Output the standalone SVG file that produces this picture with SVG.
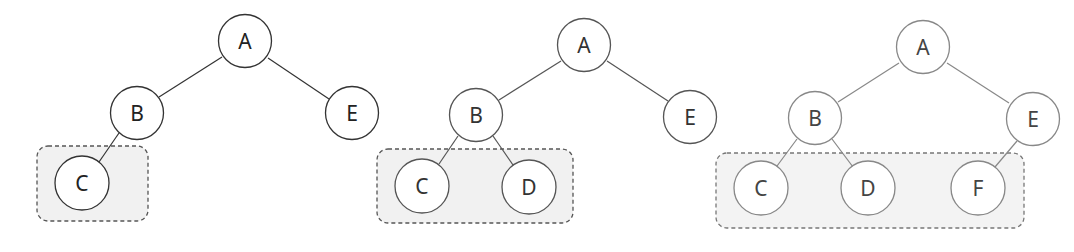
<svg xmlns="http://www.w3.org/2000/svg" width="1074" height="252" viewBox="0 0 1074 252">
<style>
.bg{fill:#ffffff}
.box{fill:#f1f1f1;stroke:#555;stroke-width:1.3;stroke-dasharray:4 3}
.box3{fill:#f3f3f3;stroke:#777;stroke-width:1.3;stroke-dasharray:4 3}
.n circle{fill:#fff;stroke:#333;stroke-width:1.3}
.n text{font-family:"Noto Sans","Liberation Sans",sans-serif;font-size:21px;fill:#222;text-anchor:middle;dominant-baseline:central}
.t2 circle{stroke:#555}
.t2 text{fill:#333}
.t3 circle{stroke:#888}
.t3 text{fill:#444}
.e line{stroke:#333;stroke-width:1.2}
.e2 line{stroke:#555}
.e3 line{stroke:#888}
</style>
<rect class="bg" x="0" y="0" width="1074" height="252"/>
<rect class="box" x="37" y="146" width="111" height="75" rx="11"/>
<rect class="box" x="377" y="149" width="196" height="74" rx="11"/>
<rect class="box3" x="716" y="153" width="308" height="75" rx="11"/>
<g id="connectors" class="e">
<g>
<line x1="222" y1="57" x2="159" y2="97"/>
<line x1="268" y1="58" x2="329" y2="99"/>
<line x1="119" y1="133" x2="99" y2="162"/>
</g>
<g class="e2">
<line x1="561" y1="61" x2="499" y2="100"/>
<line x1="607" y1="61" x2="668" y2="101"/>
<line x1="458" y1="136" x2="439" y2="164"/>
<line x1="493" y1="136" x2="513" y2="165"/>
</g>
<g class="e3">
<line x1="899" y1="63" x2="838" y2="102"/>
<line x1="947" y1="63" x2="1009" y2="103"/>
<line x1="797" y1="139" x2="777" y2="166"/>
<line x1="832" y1="139" x2="853" y2="167"/>
<line x1="1017" y1="141" x2="995" y2="167"/>
</g>
</g>
<g id="t1A" class="n"><circle cx="245" cy="41" r="26.5"/><text x="245" y="41">A</text></g>
<g id="t1B" class="n"><circle cx="137" cy="113" r="26.5"/><text x="137" y="113">B</text></g>
<g id="t1E" class="n"><circle cx="352" cy="113" r="26.5"/><text x="352" y="113">E</text></g>
<g id="t1C" class="n"><circle cx="82" cy="183" r="27"/><text x="82" y="183">C</text></g>
<g id="t2A" class="n t2"><circle cx="584" cy="45" r="26.5"/><text x="584" y="45">A</text></g>
<g id="t2B" class="n t2"><circle cx="476" cy="115" r="26.5"/><text x="476" y="115">B</text></g>
<g id="t2E" class="n t2"><circle cx="690" cy="117" r="26.5"/><text x="690" y="117">E</text></g>
<g id="t2C" class="n t2"><circle cx="422" cy="186" r="27"/><text x="422" y="186">C</text></g>
<g id="t2D" class="n t2"><circle cx="529" cy="187" r="27"/><text x="529" y="187">D</text></g>
<g id="t3A" class="n t3"><circle cx="923" cy="47" r="26.5"/><text x="923" y="47">A</text></g>
<g id="t3B" class="n t3"><circle cx="815" cy="118" r="26.5"/><text x="815" y="118">B</text></g>
<g id="t3E" class="n t3"><circle cx="1033" cy="119" r="26.5"/><text x="1033" y="119">E</text></g>
<g id="t3C" class="n t3"><circle cx="761" cy="188" r="27"/><text x="761" y="188">C</text></g>
<g id="t3D" class="n t3"><circle cx="868" cy="188" r="27"/><text x="868" y="188">D</text></g>
<g id="t3F" class="n t3"><circle cx="978" cy="188" r="27"/><text x="978" y="188">F</text></g>
</svg>
